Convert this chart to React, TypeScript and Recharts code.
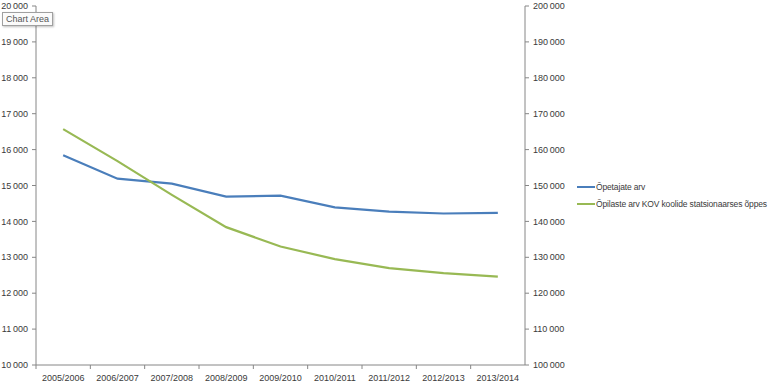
import React from 'react'
import { LineChart, Line, XAxis, YAxis } from 'recharts'

const years = [
  '2005/2006', '2006/2007', '2007/2008', '2008/2009', '2009/2010',
  '2010/2011', '2011/2012', '2012/2013', '2013/2014',
]
const teachers = [15840, 15190, 15050, 14690, 14720, 14390, 14270, 14220, 14235]
const pupils = [165700, 156800, 147400, 138400, 133000, 129500, 127000, 125600, 124600]

const leftTicks = [10000, 11000, 12000, 13000, 14000, 15000, 16000, 17000, 18000, 19000, 20000]
const rightTicks = [100000, 110000, 120000, 130000, 140000, 150000, 160000, 170000, 180000, 190000, 200000]

const seriesNames = ['Õpetajate arv', 'Õpilaste arv KOV koolide statsionaarses õppes']
const BLUE = '#4a7ebb'
const GREEN = '#98b954'
const AXIS = '#868686'
const TEXT = '#3a3a3a'
const FONT = '"Liberation Sans", Arial, sans-serif'

const data = years.map((year, i) => ({
  year,
  teachers: teachers[i],
  pupils: pupils[i],
}))

const fmt = (v: number) => String(v).replace(/\B(?=(\d{3})+(?!\d))/g, '\u2009')

// plot area: x 36..525 -> 9 categories
const BAND = (525 - 36) / years.length

function YearTick(props: any) {
  const { x, y, payload } = props
  const bx = x - BAND / 2
  return (
    <g>
      <line x1={bx} y1={y} x2={bx} y2={y + 4} stroke={AXIS} />
      <text x={x} y={y + 16} textAnchor="middle" fontSize={9} fill={TEXT} fontFamily={FONT}>
        {payload.value}
      </text>
    </g>
  )
}

export default function App() {
  return (
    <div style={{ position: 'absolute', left: 0, top: 0, width: 768, height: 386, background: '#fff', fontFamily: FONT }}>
      <LineChart width={768} height={386} data={data} margin={{ top: 6, right: 0, bottom: 0, left: 0 }}>
        <XAxis
          dataKey="year"
          height={21}
          tickSize={0}
          tickMargin={0}
          interval={0}
          padding={{ left: BAND / 2, right: BAND / 2 }}
          axisLine={{ stroke: AXIS }}
          tick={<YearTick />}
        />
        <YAxis
          yAxisId="left"
          width={36}
          domain={[10000, 20000]}
          ticks={leftTicks}
          interval={0}
          tickFormatter={fmt}
          tickSize={4}
          tickMargin={4}
          axisLine={{ stroke: AXIS }}
          tickLine={{ stroke: AXIS }}
          tick={{ fontSize: 9, fill: TEXT, fontFamily: FONT }}
        />
        <YAxis
          yAxisId="right"
          orientation="right"
          width={243}
          domain={[100000, 200000]}
          ticks={rightTicks}
          interval={0}
          tickFormatter={fmt}
          tickSize={4}
          tickMargin={4}
          axisLine={{ stroke: AXIS }}
          tickLine={{ stroke: AXIS }}
          tick={{ fontSize: 9, fill: TEXT, fontFamily: FONT }}
        />
        <Line yAxisId="left" dataKey="teachers" name={seriesNames[0]} stroke={BLUE} strokeWidth={2.2} dot={false} isAnimationActive={false} />
        <Line yAxisId="right" dataKey="pupils" name={seriesNames[1]} stroke={GREEN} strokeWidth={2.2} dot={false} isAnimationActive={false} />
      </LineChart>

      <div style={{ position: 'absolute', left: 577, top: 178, fontSize: 8.5, letterSpacing: -0.15, color: TEXT }}>
        {seriesNames.map((name, i) => (
          <div key={name} style={{ display: 'flex', alignItems: 'center', height: 17, whiteSpace: 'nowrap' }}>
            <span style={{ display: 'inline-block', width: 18, height: 2, background: i === 0 ? BLUE : GREEN, marginRight: 1 }} />
            {name}
          </div>
        ))}
      </div>

      <div
        style={{
          position: 'absolute', left: 2, top: 12, padding: '1px 3px', fontSize: 9, color: '#555',
          background: '#fbfbfb', border: '1px solid #a0a0a0', boxShadow: '1px 1px 2px rgba(0,0,0,0.25)',
        }}
      >
        Chart Area
      </div>
    </div>
  )
}
